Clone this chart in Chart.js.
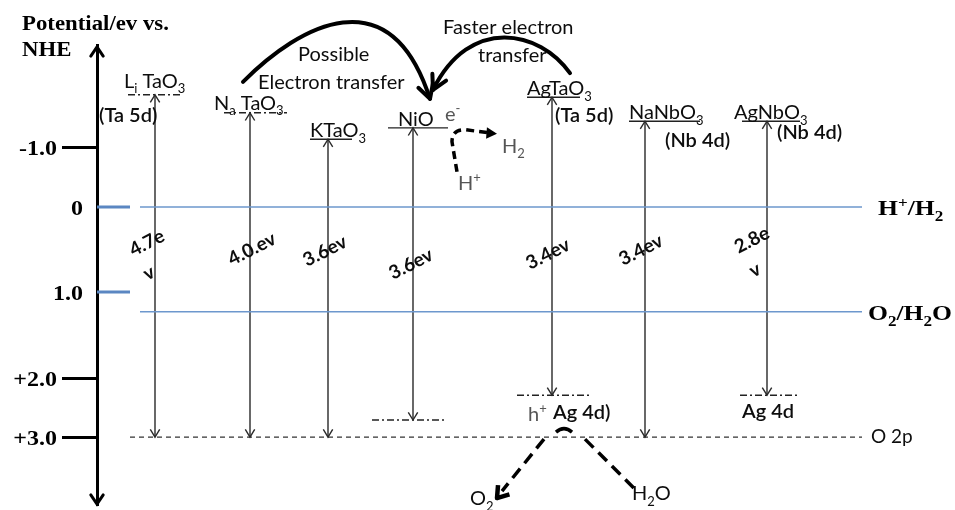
<!DOCTYPE html>
<html lang="en">
<head>
<meta charset="UTF-8">
<title>Band edge positions vs. NHE</title>
<script src="https://cdn.jsdelivr.net/npm/chart.js"></script>
<style>
  body { margin: 0; background: #fff; }
  #wrap { width: 955px; height: 510px; }
</style>
</head>
<body>
<div id="wrap"><canvas id="bands" width="955" height="510"></canvas></div>
<script>
// photocatalysts and their band edges (V vs. NHE); "_x" = subscript, "^x" = superscript
const materials = ['L_i TaO_3', 'N_a TaO_3', 'KTaO_3', 'NiO', 'AgTaO_3', 'NaNbO_3', 'AgNbO_3'];
const conductionEdge = [-1.87, -1.57, -1.13, -1.32, -1.83, -1.43, -1.43];
const valenceEdge = [3.0, 3.0, 3.0, 2.71, 2.29, 3.0, 2.29];
const gapLabels = [['4.7e', 'v'], ['4.0.ev'], ['3.6ev'], ['3.6ev'], ['3.4ev'], ['3.4ev'], ['2.8e', 'v']];
const cbOrbitals = ['(Ta 5d)', '', '', '', '(Ta 5d)', '(Nb 4d)', '(Nb 4d)'];
const vbOrbitals = ['', '', '', '', 'Ag 4d)', '', 'Ag 4d'];

// water redox couples and the O 2p band
const redoxNames = ['H^+/H_2', 'O_2/H_2O'];
const redoxPotentials = [0, 1.23];
const o2pPotential = 3.0;

// potential axis
const tickValues = [-1, 0, 1, 2, 3];
const tickLabels = ['-1.0', '0', '1.0', '+2.0', '+3.0'];

// ---- layout ----
// x runs 0..85.8 across the plot, one column per material
const columnX = [5.8, 15.3, 23.1, 31.6, 45.5, 54.8, 67.0];
const lineStart = 4.3, dashStart = 3.3, lineEnd = 76.5;
// the potential axis is schematic: every step between ticks has its own length
const tickGaps = [60, 85, 86, 59];
const tickInside = [false, true, true, false, false];

// energy level bars [left, right] around each column, and dash style
const cbBars = [[-2.7, 2.5, 'dd'], [-2.6, 3.7, 'dd'], [-1.8, 2.4, ''], [-2.5, 3.5, ''], [-2.5, 2.8, ''], [-1.6, 5.5, ''], [-2.5, 3.3, '']];
const vbBars = [null, null, null, [-4.1, 3.2, 'dd'], [-3.5, 4.0, 'dd'], null, [-2.7, 3.3, 'dd']];

// text offsets in px from (column, band edge)
const nameOffset = [[-31, -7], [-36, -3], [-18, -2], [-15, -2], [-25, -2], [-16, -2], [-33, -2]];
const cbOrbOffset = [[-56, 27], null, null, null, [3, 25], [20, 26], [10, 18]];
const vbOrbOffset = [null, null, null, null, [1, 24], null, [-25, 23]];
// gap label line centres, px from (column, H+/H2 line)
const gapOffset = [[[-8, 36], [-6, 66]], [[2, 42]], [[-3, 44]], [[-2, 57]], [[-4, 47]], [[-4, 43]], [[-15, 33], [-12, 63]]];

const SANS = 'Lato, "Open Sans", sans-serif';
const SERIF = '"Liberation Serif", "Times New Roman", serif';
const DASHDOT = [7, 3, 2, 3];
const INK = '#0d0d0d';

const knots = [0];
tickGaps.forEach(g => knots.push(knots[knots.length - 1] + g));

function warp(v) {
  const n = tickValues.length;
  if (v <= tickValues[0]) return (v - tickValues[0]) * tickGaps[0];
  if (v >= tickValues[n - 1]) return knots[n - 1] + (v - tickValues[n - 1]) * tickGaps[n - 2];
  for (let i = 0; i < n - 1; i++) {
    if (v <= tickValues[i + 1]) {
      return knots[i] + (v - tickValues[i]) / (tickValues[i + 1] - tickValues[i]) * tickGaps[i];
    }
  }
}

function unwarp(u) {
  const n = tickValues.length;
  if (u <= 0) return tickValues[0] + u / tickGaps[0];
  if (u >= knots[n - 1]) return tickValues[n - 1] + (u - knots[n - 1]) / tickGaps[n - 2];
  for (let i = 0; i < n - 1; i++) {
    if (u <= knots[i + 1]) {
      return tickValues[i] + (u - knots[i]) / tickGaps[i] * (tickValues[i + 1] - tickValues[i]);
    }
  }
}

class SchematicScale extends Chart.LinearScale {
  getPixelForValue(v) {
    if (v === null || isNaN(v)) return NaN;
    const a = warp(this.min), b = warp(this.max);
    return this.getPixelForDecimal((warp(v) - a) / (b - a));
  }
  getValueForPixel(p) {
    const a = warp(this.min), b = warp(this.max);
    return unwarp(a + this.getDecimalForPixel(p) * (b - a));
  }
}
SchematicScale.id = 'schematic';
SchematicScale.defaults = Chart.LinearScale.defaults;
Chart.register(SchematicScale);

function seg(points, color, width, dash) {
  return {
    data: points, showLine: true, pointRadius: 0, borderColor: color,
    borderWidth: width, borderDash: dash || [], tension: 0
  };
}

const datasets = [];
redoxPotentials.forEach(p => {
  datasets.push(seg([{ x: lineStart, y: p }, { x: lineEnd, y: p }], '#6d97cd', 1.5));
});
datasets.push(seg([{ x: dashStart, y: o2pPotential }, { x: lineEnd, y: o2pPotential }], '#333', 1.3, [5, 4]));
materials.forEach((m, i) => {
  const c = columnX[i];
  datasets.push(seg([{ x: c, y: conductionEdge[i] }, { x: c, y: valenceEdge[i] }], '#2a2a2a', 1.4));
  const cb = cbBars[i];
  datasets.push(seg([{ x: c + cb[0], y: conductionEdge[i] }, { x: c + cb[1], y: conductionEdge[i] }],
    '#222', 1.4, cb[2] ? DASHDOT : []));
  const vb = vbBars[i];
  if (vb) {
    datasets.push(seg([{ x: c + vb[0], y: valenceEdge[i] }, { x: c + vb[1], y: valenceEdge[i] }],
      '#222', 1.4, DASHDOT));
  }
});

// text with _sub and ^sup markers; stretch widens the glyphs horizontally
function drawRich(ctx, str, x, y, size, font, color, align, stretch) {
  const sx = stretch || 1;
  const parts = [];
  for (let i = 0; i < str.length; i++) {
    const c = str[i];
    if ((c === '_' || c === '^') && i + 1 < str.length) {
      parts.push({ t: str[i + 1], m: c });
      i++;
    } else if (parts.length && !parts[parts.length - 1].m) {
      parts[parts.length - 1].t += c;
    } else {
      parts.push({ t: c, m: '' });
    }
  }
  const fontFor = p => font.replace('SIZE', (p.m ? Math.round(size * 0.65) : size) + 'px');
  let total = 0;
  parts.forEach(p => { ctx.font = fontFor(p); p.w = ctx.measureText(p.t).width * sx; total += p.w; });
  let cx = align === 'right' ? x - total : align === 'center' ? x - total / 2 : x;
  ctx.fillStyle = color;
  ctx.textAlign = 'left';
  ctx.textBaseline = 'alphabetic';
  parts.forEach(p => {
    ctx.font = fontFor(p);
    const dy = p.m === '_' ? size * 0.28 : p.m === '^' ? -size * 0.4 : 0;
    ctx.save();
    ctx.translate(cx, y + dy);
    ctx.scale(sx, 1);
    ctx.fillText(p.t, 0, 0);
    ctx.restore();
    cx += p.w;
  });
}

function openHead(ctx, tx, ty, ang, len, spread) {
  ctx.beginPath();
  ctx.moveTo(tx - len * Math.cos(ang - spread), ty - len * Math.sin(ang - spread));
  ctx.lineTo(tx, ty);
  ctx.lineTo(tx - len * Math.cos(ang + spread), ty - len * Math.sin(ang + spread));
  ctx.stroke();
}

function filledHead(ctx, tx, ty, ang, len, spread) {
  ctx.beginPath();
  ctx.moveTo(tx, ty);
  ctx.lineTo(tx - len * Math.cos(ang - spread), ty - len * Math.sin(ang - spread));
  ctx.lineTo(tx - len * Math.cos(ang + spread), ty - len * Math.sin(ang + spread));
  ctx.closePath();
  ctx.fill();
}

const annotations = {
  id: 'annotations',
  afterDraw(chart) {
    const { ctx, chartArea } = chart;
    const xs = chart.scales.x, ys = chart.scales.y;
    const X = v => xs.getPixelForValue(v), Y = v => ys.getPixelForValue(v);
    const axisX = chartArea.left;
    const serif = 'bold SIZE ' + SERIF;
    const sans = 'SIZE ' + SANS;
    ctx.save();

    // axis title
    drawRich(ctx, 'Potential/ev vs.', 22, 30, 20, serif, '#000', 'left', 1.14);
    drawRich(ctx, 'NHE', 22, 56, 20, serif, '#000', 'left', 1.14);

    // axis arrowheads
    ctx.strokeStyle = '#000';
    ctx.lineWidth = 3;
    ctx.lineCap = 'round';
    openHead(ctx, axisX, chartArea.top + 2, -Math.PI / 2, 11, 0.6);
    openHead(ctx, axisX, chartArea.bottom - 1, Math.PI / 2, 11, 0.6);

    // tick labels, and the blue marks for the two redox ticks
    tickValues.forEach((v, i) => {
      const py = Y(v);
      if (tickInside[i]) {
        ctx.strokeStyle = '#5b87c2';
        ctx.lineWidth = 3;
        ctx.lineCap = 'butt';
        ctx.beginPath();
        ctx.moveTo(axisX, py);
        ctx.lineTo(axisX + 33, py);
        ctx.stroke();
      }
      drawRich(ctx, tickLabels[i], tickInside[i] ? axisX - 14 : axisX - 40, py + 8, 20, serif, '#000', 'right', 1.2);
    });

    // redox and O 2p labels
    redoxNames.forEach((name, i) => {
      drawRich(ctx, name, X(lineEnd) + (i ? 6 : 16), Y(redoxPotentials[i]) + 8, 21, serif, '#000', 'left', 1.22);
    });
    drawRich(ctx, 'O 2p', X(lineEnd) + 9, Y(o2pPotential) + 6, 19, sans, INK);

    // band arrows and labels
    materials.forEach((m, i) => {
      const cx = X(columnX[i]), top = Y(conductionEdge[i]), bot = Y(valenceEdge[i]);
      ctx.strokeStyle = '#2a2a2a';
      ctx.lineWidth = 1.4;
      ctx.lineCap = 'butt';
      openHead(ctx, cx, top, -Math.PI / 2, 9, 0.55);
      openHead(ctx, cx, bot, Math.PI / 2, 9, 0.55);

      drawRich(ctx, m, cx + nameOffset[i][0], top + nameOffset[i][1], 20, sans, INK);
      if (cbOrbitals[i]) {
        drawRich(ctx, cbOrbitals[i], cx + cbOrbOffset[i][0], top + cbOrbOffset[i][1], 20, '600 SIZE ' + SANS, INK);
      }
      if (vbOrbitals[i]) {
        drawRich(ctx, vbOrbitals[i], cx + vbOrbOffset[i][0], bot + vbOrbOffset[i][1], 20, '600 SIZE ' + SANS, INK);
      }

      gapLabels[i].forEach((txt, k) => {
        const [dx, dy] = gapOffset[i][k];
        ctx.save();
        ctx.translate(cx + dx, Y(0) + dy);
        ctx.rotate(-27 * Math.PI / 180);
        ctx.font = 'bold 19px ' + SANS;
        ctx.fillStyle = INK;
        ctx.textAlign = 'center';
        ctx.textBaseline = 'middle';
        ctx.fillText(txt, 0, 0);
        ctx.restore();
      });
    });

    // electron transfer into NiO
    const na = { x: X(columnX[1]), y: Y(conductionEdge[1]) };
    const ni = { x: X(columnX[3]), y: Y(conductionEdge[3]) };
    const ag = { x: X(columnX[4]), y: Y(conductionEdge[4]) };
    ctx.strokeStyle = '#000';
    ctx.lineWidth = 4;
    ctx.lineCap = 'round';
    ctx.lineJoin = 'round';
    let p0 = [na.x - 7, na.y - 31], p1 = [na.x + 50, na.y - 88], p2 = [na.x + 140, na.y - 138], p3 = [ni.x + 17, ni.y - 29];
    ctx.beginPath();
    ctx.moveTo(...p0);
    ctx.bezierCurveTo(...p1, ...p2, ...p3);
    ctx.stroke();
    openHead(ctx, p3[0], p3[1], Math.atan2(p3[1] - p2[1], p3[0] - p2[0]), 16, 0.5);

    p0 = [ag.x + 18, ag.y - 24]; p1 = [ag.x - 12, ag.y - 67]; p2 = [ag.x - 82, ag.y - 82]; p3 = [ni.x + 20, ni.y - 38];
    ctx.beginPath();
    ctx.moveTo(...p0);
    ctx.bezierCurveTo(...p1, ...p2, ...p3);
    ctx.stroke();
    openHead(ctx, p3[0], p3[1], Math.atan2(p3[1] - p2[1], p3[0] - p2[0]), 16, 0.5);

    drawRich(ctx, 'Possible', na.x + 48, na.y - 52, 20, sans, INK);
    drawRich(ctx, 'Electron transfer', na.x + 8, na.y - 24, 20, sans, INK);
    drawRich(ctx, 'Faster electron', ag.x - 109, ag.y - 63, 20, sans, INK);
    drawRich(ctx, 'transfer', ag.x - 74, ag.y - 35, 20, sans, INK);

    // H+ reduction at NiO
    drawRich(ctx, 'e^-', ni.x + 32, ni.y - 7, 20, sans, '#555');
    drawRich(ctx, 'H_2', ni.x + 89, ni.y + 25, 20, sans, '#555');
    drawRich(ctx, 'H^+', ni.x + 45, ni.y + 62, 20, sans, '#555');
    ctx.lineWidth = 3.5;
    ctx.lineCap = 'butt';
    ctx.setLineDash([8, 5]);
    ctx.beginPath();
    ctx.moveTo(ni.x + 44, ni.y + 44);
    ctx.lineTo(ni.x + 39, ni.y + 14);
    ctx.quadraticCurveTo(ni.x + 39, ni.y + 1, ni.x + 53, ni.y + 2);
    ctx.lineTo(ni.x + 76, ni.y + 5);
    ctx.stroke();
    ctx.setLineDash([]);
    ctx.fillStyle = '#000';
    filledHead(ctx, ni.x + 84, ni.y + 6, 0.08, 12, 0.5);

    // water oxidation at the AgTaO3 valence band
    const ov = { x: X(columnX[4]), y: Y(o2pPotential) };
    drawRich(ctx, 'h^+', ov.x - 24, Y(valenceEdge[4]) + 26, 20, sans, '#555');
    ctx.lineWidth = 3.5;
    ctx.beginPath();
    ctx.moveTo(ov.x + 4, ov.y - 5);
    ctx.quadraticCurveTo(ov.x + 12, ov.y - 12, ov.x + 20, ov.y - 5);
    ctx.stroke();
    ctx.setLineDash([12, 7]);
    ctx.beginPath();
    ctx.moveTo(ov.x - 8, ov.y + 2);
    ctx.lineTo(ov.x - 50, ov.y + 54);
    ctx.moveTo(ov.x + 33, ov.y + 2);
    ctx.lineTo(ov.x + 82, ov.y + 51);
    ctx.stroke();
    ctx.setLineDash([]);
    ctx.lineWidth = 4.5;
    openHead(ctx, ov.x - 55, ov.y + 61, Math.atan2(52, -42), 13, 0.6);
    drawRich(ctx, 'O_2', ov.x - 82, ov.y + 68, 20, sans, INK);
    drawRich(ctx, 'H_2O', ov.x + 80, ov.y + 63, 20, sans, INK);

    ctx.restore();
  }
};

new Chart(document.getElementById('bands'), {
  type: 'scatter',
  data: { datasets },
  options: {
    responsive: false,
    animation: false,
    layout: { padding: { top: 45, bottom: 5, left: 0, right: 0 } },
    plugins: { legend: { display: false }, tooltip: { enabled: false } },
    scales: {
      x: { type: 'linear', display: false, min: 0, max: 85.8 },
      y: {
        type: 'schematic',
        reverse: true,
        min: -2.7,
        max: 4.15,
        afterFit: s => { s.width = 97; },
        afterBuildTicks: s => { s.ticks = tickValues.map(v => ({ value: v })); },
        border: { display: true, color: '#000', width: 3 },
        grid: {
          drawOnChartArea: false,
          drawTicks: true,
          tickLength: 35,
          tickWidth: 3,
          tickColor: c => tickInside[tickValues.indexOf(c.tick && c.tick.value)] ? 'rgba(0,0,0,0)' : '#000'
        },
        ticks: { display: false }
      }
    }
  },
  plugins: [annotations]
});
</script>
</body>
</html>
